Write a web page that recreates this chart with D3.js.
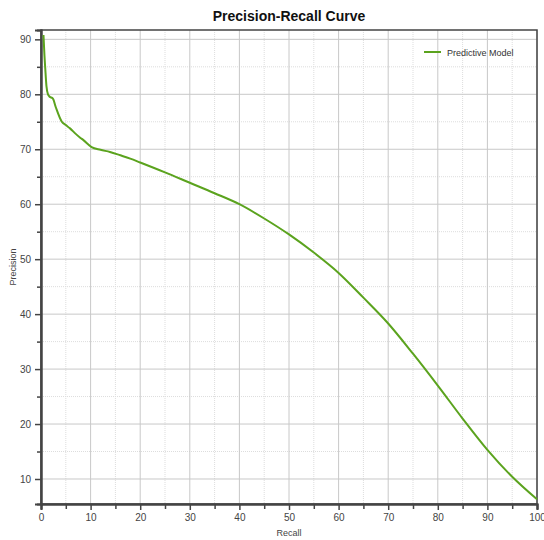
<!DOCTYPE html>
<html><head><meta charset="utf-8">
<script src="https://cdn.jsdelivr.net/npm/d3@7"></script>
<style>body{margin:0;background:#fff}svg{display:block;font-family:"Liberation Sans",Arial,sans-serif}</style>
</head><body><svg id="c" width="544" height="540"></svg>
<script>
const recall = [0.5, 0.7, 0.85, 1.1, 1.4, 1.7, 2.4, 3, 4.2, 5, 5.85, 7, 7.9, 8.5, 10.2, 12, 13.9, 16, 18, 20, 25, 30, 35, 40, 45, 50, 55, 60, 65, 70, 75, 80, 85, 90, 95, 100];
const precision = [90.8, 87, 84.8, 81.5, 80.0, 79.6, 79.2, 77.6, 75.0, 74.4, 73.8, 72.8, 72.1, 71.7, 70.4, 69.9, 69.5, 68.9, 68.3, 67.6, 65.8, 63.9, 62.0, 60.0, 57.4, 54.5, 51.2, 47.5, 43.0, 38.3, 32.8, 27.0, 21.0, 15.3, 10.4, 6.3];
const xTicks = [0,10,20,30,40,50,60,70,80,90,100];
const yTicks = [10,20,30,40,50,60,70,80,90];
const seriesName = "Predictive Model";

const svg = d3.select("#c");
const L = 41, R = 537, T = 30, B = 504;
const x = d3.scaleLinear().domain([0,100]).range([L,R]);
const y = d3.scaleLinear().domain([5.45,91.7]).range([B,T]);

const xMinor = d3.range(5,100,10), yMinor = d3.range(15,91,10);
const g = svg.append("g");
g.selectAll(".xm").data(xMinor).enter().append("line")
 .attr("x1",d=>x(d)).attr("x2",d=>x(d)).attr("y1",T).attr("y2",B)
 .attr("stroke","#ddd").attr("stroke-dasharray","1,1");
g.selectAll(".ym").data(yMinor).enter().append("line")
 .attr("y1",d=>y(d)).attr("y2",d=>y(d)).attr("x1",L).attr("x2",R)
 .attr("stroke","#ddd").attr("stroke-dasharray","1,1");
g.selectAll(".xg").data(xTicks).enter().append("line")
 .attr("x1",d=>x(d)).attr("x2",d=>x(d)).attr("y1",T).attr("y2",B)
 .attr("stroke","#c8c8c8").attr("stroke-width",1);
g.selectAll(".yg").data(yTicks).enter().append("line")
 .attr("y1",d=>y(d)).attr("y2",d=>y(d)).attr("x1",L).attr("x2",R)
 .attr("stroke","#c8c8c8").attr("stroke-width",1);

svg.append("rect").attr("x",L).attr("y",T).attr("width",R-L).attr("height",B-T)
 .attr("fill","none").attr("stroke","#444").attr("stroke-width",1.5);

const xAxis = d3.axisBottom(x).tickValues(xTicks).tickSize(6).tickPadding(4);
const xa = svg.append("g").attr("transform",`translate(0,${B})`).call(xAxis);
const xAxisMinor = d3.axisBottom(x).tickValues(xMinor).tickSize(5).tickFormat("");
const xam = svg.append("g").attr("transform",`translate(0,${B})`).call(xAxisMinor);
const yAxis = d3.axisLeft(y).tickValues(yTicks).tickSize(6).tickPadding(4);
const ya = svg.append("g").attr("transform",`translate(${L},0)`).call(yAxis);
const yAxisMinor = d3.axisLeft(y).tickValues(yMinor).tickSize(4).tickFormat("");
const yam = svg.append("g").attr("transform",`translate(${L},0)`).call(yAxisMinor);
[xa,xam,ya,yam].forEach(a=>{
  a.select(".domain").attr("stroke","#444").attr("stroke-width",2);
  a.selectAll(".tick line").attr("stroke","#444").attr("stroke-width",1.5);
  a.selectAll("text").attr("fill","#444").attr("font-size",10).attr("font-family","Liberation Sans, Arial, sans-serif");
});

const pts = recall.map((r,i)=>[r,precision[i]]);
svg.append("path").datum(pts)
 .attr("fill","none").attr("stroke","#5ba31e").attr("stroke-width",2)
 .attr("d",d3.line().x(d=>x(d[0])).y(d=>y(d[1])).curve(d3.curveMonotoneX));

svg.append("text").attr("x",(L+R)/2).attr("y",21).attr("text-anchor","middle")
 .attr("font-size",14).attr("font-weight","bold").attr("fill","#111").text("Precision-Recall Curve");
svg.append("text").attr("x",(L+R)/2).attr("y",536).attr("text-anchor","middle")
 .attr("font-size",9).attr("fill","#444").text("Recall");
svg.append("text").attr("transform",`translate(16,${(T+B)/2}) rotate(-90)`).attr("text-anchor","middle")
 .attr("font-size",9).attr("fill","#444").text("Precision");

svg.append("line").attr("x1",424).attr("x2",441).attr("y1",52).attr("y2",52)
 .attr("stroke","#5ba31e").attr("stroke-width",2);
svg.append("text").attr("x",447).attr("y",55.5).attr("font-size",9).attr("fill","#333").text(seriesName);
</script></body></html>
